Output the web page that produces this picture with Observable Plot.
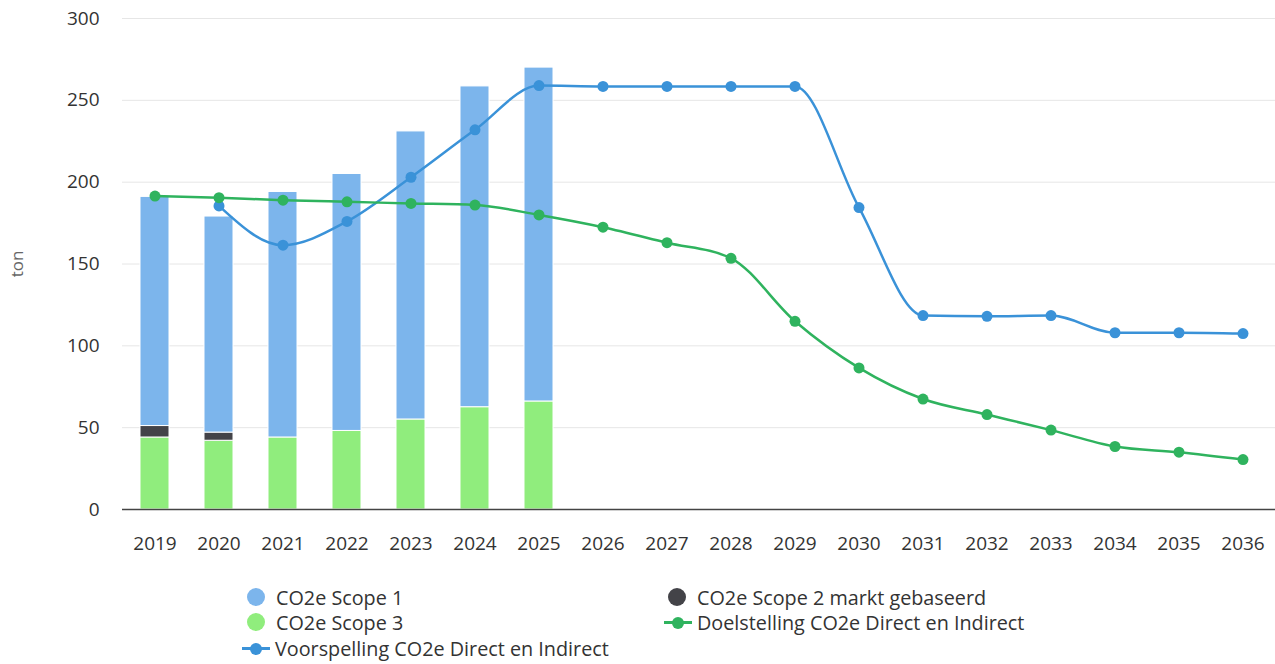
<!DOCTYPE html>
<html>
<head>
<meta charset="utf-8">
<script src="https://cdn.jsdelivr.net/npm/d3@7"></script>
<script src="https://cdn.jsdelivr.net/npm/@observablehq/plot@0.6"></script>
<style>
  body { margin: 0; background: #fff; font-family: "Open Sans", sans-serif; }
  #wrap { position: relative; width: 1275px; height: 664px; overflow: hidden; }
  .item { position: absolute; height: 24px; display: flex; align-items: center; font-size: 19.8px; color: #333; white-space: nowrap; }
  .circ { width: 18px; height: 18px; border-radius: 50%; display: inline-block; }
  .lmark { position: relative; width: 28px; height: 24px; display: inline-block; }
  .lmark .ln { position: absolute; left: 0; right: 0; top: 11px; height: 3px; }
  .lmark .dt { position: absolute; left: 8px; top: 6.5px; width: 12px; height: 12px; border-radius: 50%; }
</style>
</head>
<body>
<div id="wrap">
  <div id="chart"></div>
</div>
<script>
const years = ["2019","2020","2021","2022","2023","2024","2025","2026","2027","2028","2029","2030","2031","2032","2033","2034","2035","2036"];
const barYears = ["2019","2020","2021","2022","2023","2024","2025"];
const scope1 = [140, 132, 150, 157, 176, 196, 204];
const scope2 = [7, 5, 0, 0, 0, 0, 0];
const scope3 = [44, 42, 44, 48, 55, 62.5, 66];
const doelstelling = [191.5, 190.5, 189, 188, 187, 186, 180, 172.5, 163, 153.5, 115, 86.5, 67.5, 58, 48.5, 38.5, 35, 30.5];
const voorspellingYears = ["2020","2021","2022","2023","2024","2025","2026","2027","2028","2029","2030","2031","2032","2033","2034","2035","2036"];
const voorspelling = [185.5, 161.5, 176, 203, 232, 259, 258.5, 258.5, 258.5, 258.5, 184.5, 118.5, 118, 118.5, 108, 108, 107.5];
const yTicks = [0, 50, 100, 150, 200, 250, 300];

const names = {
  s1: "CO2e Scope 1",
  s2: "CO2e Scope 2 markt gebaseerd",
  s3: "CO2e Scope 3",
  doel: "Doelstelling CO2e Direct en Indirect",
  voor: "Voorspelling CO2e Direct en Indirect"
};
const colors = {
  s1: "#7cb5ec",
  s2: "#434348",
  s3: "#90ed7d",
  doel: "#2fb35e",
  voor: "#3a92d8"
};

const bars = [];
barYears.forEach((y, i) => {
  bars.push({year: y, series: names.s3, value: scope3[i]});
  bars.push({year: y, series: names.s2, value: scope2[i]});
  bars.push({year: y, series: names.s1, value: scope1[i]});
});
const doelData = years.map((y, i) => ({year: y, value: doelstelling[i]}));
const voorData = voorspellingYears.map((y, i) => ({year: y, value: voorspelling[i]}));

const chart = Plot.plot({
  width: 1275,
  height: 570,
  marginLeft: 122,
  marginRight: 0,
  marginTop: 18,
  marginBottom: 61,
  style: { fontFamily: "Open Sans, sans-serif", fontSize: "19px", color: "#333", background: "#fff" },
  x: { type: "band", domain: years, paddingInner: 0.55, paddingOuter: 0.275, label: null },
  y: { domain: [0, 300] },
  color: { domain: [names.s3, names.s2, names.s1], range: [colors.s3, colors.s2, colors.s1] },
  marks: [
    Plot.gridY(yTicks, { stroke: "#e6e6e6", strokeOpacity: 1, strokeWidth: 1 }),
    Plot.barY(bars.filter(d => d.value > 0), {
      x: "year", y: "value", fill: "series",
      order: [names.s3, names.s2, names.s1],
      stroke: "#fff", strokeWidth: 1
    }),
    Plot.ruleY([0], { stroke: "#444", strokeWidth: 1.5 }),
    Plot.line(voorData, { x: "year", y: "value", stroke: colors.voor, strokeWidth: 2.5, curve: "monotone-x" }),
    Plot.dot(voorData, { x: "year", y: "value", r: 5.5, fill: colors.voor }),
    Plot.line(doelData, { x: "year", y: "value", stroke: colors.doel, strokeWidth: 2.5, curve: "monotone-x" }),
    Plot.dot(doelData, { x: "year", y: "value", r: 5.5, fill: colors.doel }),
    Plot.axisX({ tickSize: 0, tickPadding: 27, fontSize: 19, fill: "#333", label: null }),
    Plot.axisY(yTicks, { tickSize: 0, tickPadding: 23, fontSize: 19, fill: "#333", label: null }),
    Plot.axisY([], { tickSize: 0, fontSize: 17, fill: "#666",
      label: "ton", labelAnchor: "center", labelOffset: 112, labelArrow: "none" })
  ]
});
document.getElementById("chart").appendChild(chart);

// legend
const wrap = document.getElementById("wrap");
function circleItem(left, cy, color, text) {
  const d = document.createElement("div");
  d.className = "item";
  d.style.left = left + "px";
  d.style.top = (cy - 12) + "px";
  d.innerHTML = `<span class="circ" style="background:${color}"></span><span style="margin-left:11px">${text}</span>`;
  wrap.appendChild(d);
}
function lineItem(left, cy, color, text) {
  const d = document.createElement("div");
  d.className = "item";
  d.style.left = left + "px";
  d.style.top = (cy - 12) + "px";
  d.innerHTML = `<span class="lmark"><span class="ln" style="background:${color}"></span><span class="dt" style="background:${color}"></span></span><span style="margin-left:5px">${text}</span>`;
  wrap.appendChild(d);
}
circleItem(247, 597, colors.s1, names.s1);
circleItem(247, 622, colors.s3, names.s3);
lineItem(242, 648, colors.voor, names.voor);
circleItem(668, 597, colors.s2, names.s2);
lineItem(664, 622, colors.doel, names.doel);
</script>
</body>
</html>
